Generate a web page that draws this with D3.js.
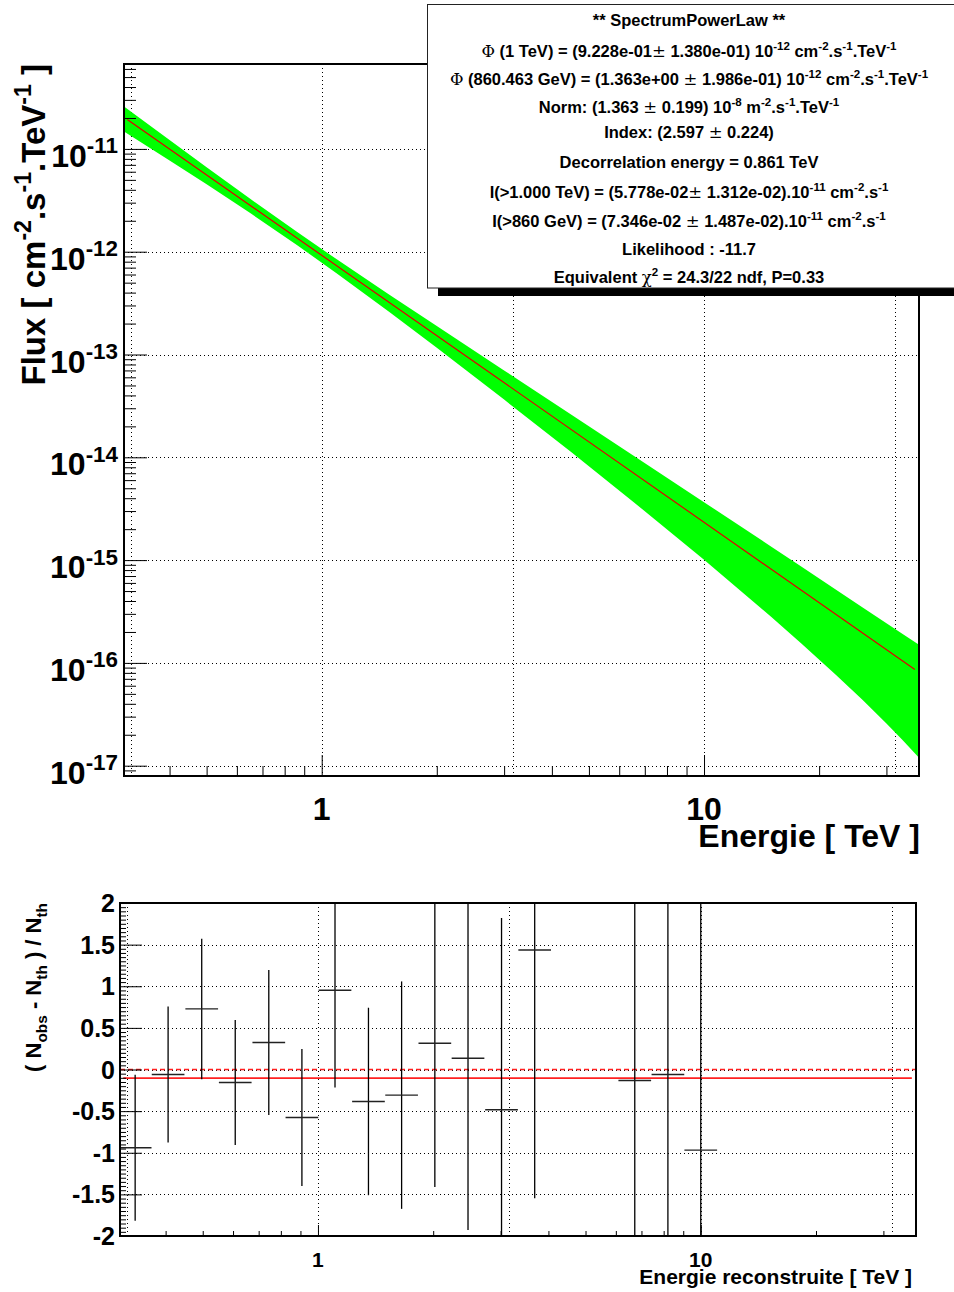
<!DOCTYPE html>
<html><head><meta charset="utf-8">
<script src="https://cdn.jsdelivr.net/npm/d3@7"></script>
<style>
body{margin:0;background:#fff;}
svg{display:block;font-family:"Liberation Sans",Arial,Helvetica,sans-serif;font-weight:bold;white-space:pre;}
</style></head><body>
<svg id="c" width="954" height="1292"></svg>
<script>
// ---------------- DATA ----------------
const energyDomain = [0.304, 36.5];          // TeV
const fluxDomain = [7.94e-18, 6.7e-11];      // cm^-2 s^-1 TeV^-1
const fluxTickExponents = [-11, -12, -13, -14, -15, -16, -17];
const energyTickValues = [1, 10];
const energyTickLabels = ["1", "10"];
const gridEnergies = [0.3162, 1, 3.162, 10, 31.62];

// fitted power law (red line) end points
const fitLineEnergy = [0.31, 35.6];
const fitLineFlux = [1.932e-11, 8.63e-17];

// error band (green)
const bandEnergy = [0.304, 0.4, 0.5, 0.65, 0.861, 1.1, 1.5, 2, 3, 4.5, 6.5, 10, 15, 18, 22, 26, 30, 33, 36.5];
const bandLow  = [1.4734e-11, 7.720e-12, 4.522e-12, 2.3756e-12, 1.1626e-12, 6.082e-13, 2.6016e-13, 1.1613e-13, 3.6434e-14, 1.1175e-14, 3.7454e-15, 1.0074e-15, 2.7967e-16, 1.5400e-16, 7.816e-17, 4.348e-17, 2.5753e-17, 1.7897e-17, 1.1980e-17];
const bandHigh = [2.5918e-11, 1.2214e-11, 6.644e-12, 3.2738e-12, 1.5602e-12, 8.330e-13, 3.8364e-13, 1.8895e-13, 7.0006e-14, 2.5963e-14, 1.0545e-14, 3.6610e-15, 1.3491e-15, 8.605e-16, 5.2420e-16, 3.4684e-16, 2.4349e-16, 1.9228e-16, 1.4980e-16];

// residuals
const resEnergy = [0.333, 0.406, 0.497, 0.608, 0.744, 0.908, 1.108, 1.355, 1.654, 2.02, 2.466, 3.017, 3.683, 6.724, 8.207, 10.0];
const resValue  = [-0.94, -0.06, 0.728, -0.156, 0.324, -0.576, 0.952, -0.384, -0.308, 0.316, 0.136, -0.484, 1.436, -0.132, -0.06, -0.968];
const resError  = [0.876, 0.818, 0.844, 0.752, 0.872, 0.822, 1.168, 1.126, 1.366, 1.728, 2.064, 2.304, 2.984, 4.0, 4.0, 5.0];
const resBinHalfDecade = 0.0427;
const resFitEnergy = [0.31, 35.6];
const resFitValue = [-0.104, -0.104];
const resDomain = [-2, 2];
const resTickLabels = ["2", "1.5", "1", "0.5", "0", "-0.5", "-1", "-1.5", "-2"];
const resTickValues = [2, 1.5, 1, 0.5, 0, -0.5, -1, -1.5, -2];

const statsLines = [
  "** SpectrumPowerLaw **",
  "#Phi (1 TeV) = (9.228e-01#pm 1.380e-01) 10^{-12} cm^{-2}.s^{-1}.TeV^{-1}",
  "#Phi (860.463 GeV) = (1.363e+00 #pm 1.986e-01) 10^{-12} cm^{-2}.s^{-1}.TeV^{-1}",
  "Norm: (1.363 #pm 0.199) 10^{-8} m^{-2}.s^{-1}.TeV^{-1}",
  "Index: (2.597 #pm 0.224)",
  "Decorrelation energy = 0.861 TeV",
  "I(>1.000 TeV) = (5.778e-02#pm 1.312e-02).10^{-11} cm^{-2}.s^{-1}",
  "I(>860 GeV) = (7.346e-02 #pm 1.487e-02).10^{-11} cm^{-2}.s^{-1}",
  "Likelihood : -11.7",
  "Equivalent #chi^{2} = 24.3/22 ndf, P=0.33"
];
const topYTitle = "Flux [ cm^{-2}.s^{-1}.TeV^{-1} ]";
const topXTitle = "Energie [ TeV ]";
const botYTitle = "( N_{obs} - N_{th} ) / N_{th}";
const botXTitle = "Energie reconstruite [ TeV ]";

// ---------------- HELPERS ----------------
const svg = d3.select("#c");
function rich(t, str, size, ratio = 0.7) {
  const re = /(\^\{[^}]*\}|_\{[^}]*\}|#Phi|#chi|#pm)/;
  const parts = str.split(re).filter(s => s.length);
  let cur = 0;
  parts.forEach(p => {
    let txt = p, target = 0, fs = size, sym = false;
    if (p.startsWith("^{")) { txt = p.slice(2, -1); target = -size * 0.42; fs = size * ratio; }
    else if (p.startsWith("_{")) { txt = p.slice(2, -1); target = size * 0.28; fs = size * ratio; }
    else if (p === "#Phi") { txt = "\u03A6"; sym = true; }
    else if (p === "#chi") { txt = "\u03C7"; sym = true; }
    else if (p === "#pm") { txt = "\u00B1"; sym = true; }
    const ts = t.append("tspan").attr("font-size", fs).attr("dy", target - cur).text(txt);
    if (sym) ts.attr("font-family", "'DejaVu Serif','Liberation Serif',serif").attr("font-weight", "normal");
    cur = target;
  });
}
function logTicks(domain) {
  const out = { major: [], minor: [] };
  const k0 = Math.floor(Math.log10(domain[0])), k1 = Math.ceil(Math.log10(domain[1]));
  for (let k = k0; k <= k1; k++) for (let m = 1; m <= 9; m++) {
    const v = m * Math.pow(10, k);
    if (v >= domain[0] * 0.9999 && v <= domain[1] * 1.0001) (m === 1 ? out.major : out.minor).push(v);
  }
  return out;
}
const dotted = "1,3";

// ---------------- TOP PANEL ----------------
const T = { l: 124, r: 919, t: 64, b: 776 };
const x1 = d3.scaleLog().domain(energyDomain).range([T.l, T.r]);
const y1 = d3.scaleLog().domain(fluxDomain).range([T.b, T.t]);
const defs = svg.append("defs");
defs.append("clipPath").attr("id", "clipT").append("rect")
  .attr("x", T.l).attr("y", T.t).attr("width", T.r - T.l).attr("height", T.b - T.t);

const gT = svg.append("g");
// grid
gT.selectAll(".vg").data(gridEnergies).join("line")
  .attr("x1", d => Math.round(x1(d)) + 0.5).attr("x2", d => Math.round(x1(d)) + 0.5)
  .attr("y1", T.t).attr("y2", T.b).attr("stroke", "#000").attr("stroke-dasharray", dotted);
gT.selectAll(".hg").data(fluxTickExponents).join("line")
  .attr("y1", d => Math.round(y1(Math.pow(10, d))) + 0.5).attr("y2", d => Math.round(y1(Math.pow(10, d))) + 0.5)
  .attr("x1", T.l).attr("x2", T.r).attr("stroke", "#000").attr("stroke-dasharray", dotted);

// band
const bandData = bandEnergy.map((e, i) => ({ e, lo: bandLow[i], hi: bandHigh[i] }));
gT.append("path").datum(bandData).attr("clip-path", "url(#clipT)")
  .attr("d", d3.area().x(d => x1(d.e)).y0(d => y1(d.lo)).y1(d => y1(d.hi)))
  .attr("fill", "#00ff00");
// fit line
const fitData = fitLineEnergy.map((e, i) => ({ e, f: fitLineFlux[i] }));
gT.append("path").datum(fitData)
  .attr("d", d3.line().x(d => x1(d.e)).y(d => y1(d.f)))
  .attr("stroke", "#e00000").attr("stroke-width", 1.2).attr("fill", "none");

// axes ticks
const yt = logTicks(fluxDomain);
gT.append("g").attr("transform", `translate(${T.l},0)`)
  .call(d3.axisRight(y1).tickValues(yt.minor).tickSize(12).tickFormat(""))
  .call(g => g.select(".domain").remove());
gT.append("g").attr("transform", `translate(${T.l},0)`)
  .call(d3.axisRight(y1).tickValues(yt.major).tickSize(23).tickFormat(""))
  .call(g => g.select(".domain").remove());
const xt = logTicks(energyDomain);
gT.append("g").attr("transform", `translate(0,${T.b})`)
  .call(d3.axisTop(x1).tickValues(xt.minor).tickSize(10).tickFormat(""))
  .call(g => g.select(".domain").remove());
gT.append("g").attr("transform", `translate(0,${T.b})`)
  .call(d3.axisTop(x1).tickValues(xt.major).tickSize(21).tickFormat(""))
  .call(g => g.select(".domain").remove());
gT.selectAll(".tick line").attr("stroke", "#000").attr("stroke-width", 1);

// frame
gT.append("rect").attr("x", T.l).attr("y", T.t).attr("width", T.r - T.l).attr("height", T.b - T.t)
  .attr("fill", "none").attr("stroke", "#000").attr("stroke-width", 2);

// y tick labels
fluxTickExponents.forEach(k => {
  const t = gT.append("text").attr("x", 118).attr("y", y1(Math.pow(10, k)) + 18)
    .attr("text-anchor", "end").attr("font-size", 32);
  rich(t, "10^{" + k + "}", 32);
});
// x tick labels
energyTickValues.forEach((v, i) => {
  gT.append("text").attr("x", x1(v)).attr("y", 820).attr("text-anchor", "middle")
    .attr("font-size", 32).text(energyTickLabels[i]);
});
// titles
gT.append("text").attr("x", T.r + 1).attr("y", 847).attr("text-anchor", "end")
  .attr("font-size", 32).text(topXTitle);
{
  const t = gT.append("text").attr("transform", `translate(45,${T.t}) rotate(-90)`)
    .attr("text-anchor", "end").attr("font-size", 33);
  rich(t, topYTitle, 33);
}

// stats box
const gS = svg.append("g");
gS.append("rect").attr("x", 438).attr("y", 12).attr("width", 530).attr("height", 284).attr("fill", "#000");
gS.append("rect").attr("x", 427.5).attr("y", 4.5).attr("width", 540).attr("height", 283.5)
  .attr("fill", "#fff").attr("stroke", "#222").attr("stroke-width", 1);
const statsBaselines = [26, 57, 85, 113, 138, 168, 198, 227, 255, 283];
statsLines.forEach((s, i) => {
  const t = gS.append("text").attr("x", 689).attr("y", statsBaselines[i])
    .attr("text-anchor", "middle").attr("font-size", 16.5);
  rich(t, s, 16.5);
});

// ---------------- BOTTOM PANEL ----------------
const B = { l: 120, r: 916, t: 903, b: 1236 };
const x2 = d3.scaleLog().domain(energyDomain).range([B.l, B.r]);
const y2 = d3.scaleLinear().domain(resDomain).range([B.b, B.t]);
defs.append("clipPath").attr("id", "clipB").append("rect")
  .attr("x", B.l).attr("y", B.t).attr("width", B.r - B.l).attr("height", B.b - B.t);
const gB = svg.append("g");
gB.selectAll(".vg").data(gridEnergies).join("line")
  .attr("x1", d => Math.round(x2(d)) + 0.5).attr("x2", d => Math.round(x2(d)) + 0.5)
  .attr("y1", B.t).attr("y2", B.b).attr("stroke", "#000").attr("stroke-dasharray", dotted);
gB.selectAll(".hg").data(resTickValues).join("line")
  .attr("y1", d => Math.round(y2(d)) + 0.5).attr("y2", d => Math.round(y2(d)) + 0.5)
  .attr("x1", B.l).attr("x2", B.r).attr("stroke", "#000").attr("stroke-dasharray", dotted);

// zero dashed line & fit
gB.append("line").attr("x1", B.l).attr("x2", B.r).attr("y1", y2(0)).attr("y2", y2(0))
  .attr("stroke", "#ff2020").attr("stroke-width", 1.3).attr("stroke-dasharray", "5,3");
const resFitData = resFitEnergy.map((e, i) => ({ e, v: resFitValue[i] }));
gB.append("path").datum(resFitData)
  .attr("d", d3.line().x(d => x2(d.e)).y(d => y2(d.v)))
  .attr("stroke", "#ff2020").attr("stroke-width", 1.6).attr("fill", "none");

// error bars
const resData = resEnergy.map((e, i) => ({ e, v: resValue[i], err: resError[i] }));
const gE = gB.append("g").attr("clip-path", "url(#clipB)");
gE.selectAll(".ev").data(resData).join("line")
  .attr("x1", d => x2(d.e)).attr("x2", d => x2(d.e))
  .attr("y1", d => y2(d.v + d.err)).attr("y2", d => y2(d.v - d.err))
  .attr("stroke", "#000").attr("stroke-width", 1.3);
gE.selectAll(".eh").data(resData).join("line")
  .attr("x1", d => x2(d.e * Math.pow(10, -resBinHalfDecade))).attr("x2", d => x2(d.e * Math.pow(10, resBinHalfDecade)))
  .attr("y1", d => y2(d.v)).attr("y2", d => y2(d.v))
  .attr("stroke", "#222").attr("stroke-width", 1.4);

// ticks
const rMinor = d3.range(-40, 41).map(i => i * 0.05).filter(v => Math.abs((v * 2) % 1) > 1e-6);
gB.append("g").attr("transform", `translate(${B.l},0)`)
  .call(d3.axisRight(y2).tickValues(rMinor).tickSize(6).tickFormat(""))
  .call(g => g.select(".domain").remove());
gB.append("g").attr("transform", `translate(${B.l},0)`)
  .call(d3.axisRight(y2).tickValues(resTickValues).tickSize(22).tickFormat(""))
  .call(g => g.select(".domain").remove());
gB.append("g").attr("transform", `translate(0,${B.b})`)
  .call(d3.axisTop(x2).tickValues(xt.minor).tickSize(5).tickFormat(""))
  .call(g => g.select(".domain").remove());
gB.append("g").attr("transform", `translate(0,${B.b})`)
  .call(d3.axisTop(x2).tickValues(xt.major).tickSize(11).tickFormat(""))
  .call(g => g.select(".domain").remove());
gB.selectAll(".tick line").attr("stroke", "#000").attr("stroke-width", 1);

gB.append("rect").attr("x", B.l).attr("y", B.t).attr("width", B.r - B.l).attr("height", B.b - B.t)
  .attr("fill", "none").attr("stroke", "#000").attr("stroke-width", 2);

resTickValues.forEach((v, i) => {
  gB.append("text").attr("x", 115).attr("y", y2(v) + 9).attr("text-anchor", "end")
    .attr("font-size", 25).text(resTickLabels[i]);
});
energyTickValues.forEach((v, i) => {
  gB.append("text").attr("x", x2(v)).attr("y", 1267).attr("text-anchor", "middle")
    .attr("font-size", 21).text(energyTickLabels[i]);
});
gB.append("text").attr("x", 912).attr("y", 1284).attr("text-anchor", "end")
  .attr("font-size", 21).text(botXTitle);
{
  const t = gB.append("text").attr("transform", `translate(41,${B.t}) rotate(-90)`)
    .attr("text-anchor", "end").attr("font-size", 22);
  rich(t, botYTitle, 22);
}
</script>
</body></html>
